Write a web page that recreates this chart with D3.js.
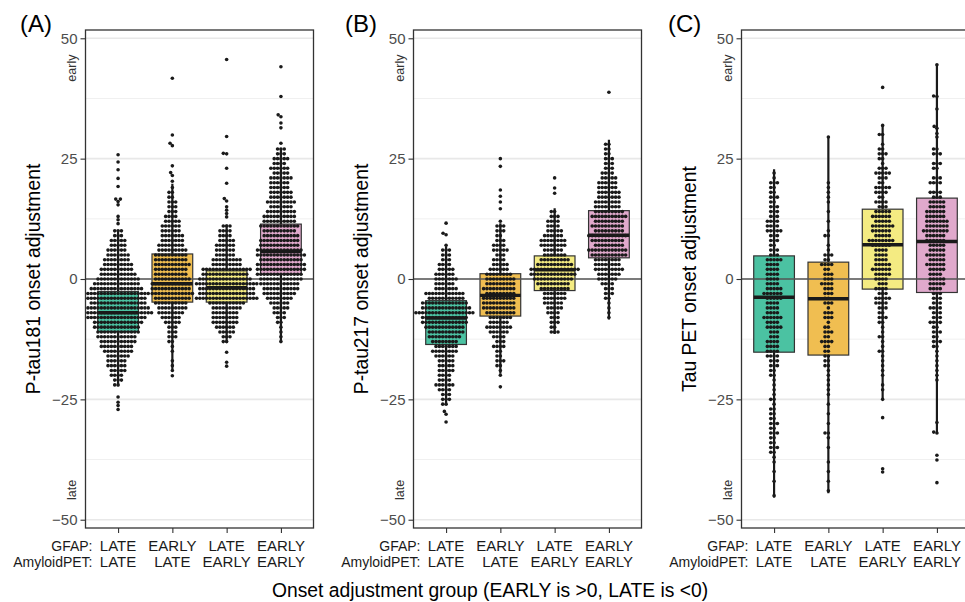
<!DOCTYPE html>
<html>
<head>
<meta charset="utf-8">
<script src="https://cdn.jsdelivr.net/npm/d3@7"></script>
<style>
  body { margin: 0; background: #fff; }
  text { font-family: "Liberation Sans", Arial, Helvetica, sans-serif; }
</style>
</head>
<body>
<svg id="chart" width="965" height="602"></svg>
<script>
// ---- categories and labels ----
const groups = ["LL", "EL", "LE", "EE"];
const gfapLabels = ["LATE", "EARLY", "LATE", "EARLY"];
const amyloidLabels = ["LATE", "LATE", "EARLY", "EARLY"];
const groupColors = ["#3dbd9b", "#efb944", "#f3ea78", "#dea3c8"];
const yMajor = [-50, -25, 0, 25, 50];
const yMinor = [-37.5, -12.5, 12.5, 37.5];
const panelLetters = ["(A)", "(B)", "(C)"];
const panelTitles = ["P-tau181 onset adjustment", "P-tau217 onset adjustment", "Tau PET onset adjustment"];
const xTitle = "Onset adjustment group (EARLY is >0, LATE is <0)";

// ---- P-tau181: counts per 1-year bin (starting at *_from) plus individual values ----
const ptau181_LL_from = -22;
const ptau181_LL_counts = [2,3,4,5,6, 6,7,9,10,11, 12,13,14,15,18, 22,19,17,18,20, 16,14,13,11,10, 9,8,7,6,5, 5,3,3];
const ptau181_LL_extra = [11.5, 12.3, 13.0, 15.4, 16.1, 16.6, 16.6, 19.2, 20.9, 22.7, 24.3, 25.8, -24.5, -25.6, -26.3, -27.1];
const ptau181_EL_from = -19;
const ptau181_EL_counts = [1,1,1,0,1, 1,2,3,3,3, 5,6,8,9,10, 11,13,12,12,11, 10,10,11,10,10, 9,8,7,7,6, 6,5,4,3,3, 3,2,2,1];
const ptau181_EL_extra = [20.3, 21.5, 22.1, 23.5, 27.7, 28.2, 29.9, 41.7, -20.1];
const ptau181_LE_from = -13;
const ptau181_LE_counts = [2,3,5,6,8, 8,8,9,11,19, 17,17,19,16,14, 15,9,9,6,6, 6,5,4,4,3];
const ptau181_LE_extra = [12.9, 13.6, 14.3, 15.0, 16.2, 16.7, 19.9, 23.0, 26.0, 26.1, 29.6, 45.6, -15.2, -17.3, -18.1];
const ptau181_EE_from = -13;
const ptau181_EE_counts = [1,1,1,1,2, 3,4,5,6,8, 10,11,12,13,14, 15,15,13,15,14, 12,12,11,10,12, 10,10,9,7,9, 7,7,6,6,7, 5,6,4,5,3, 3];
const ptau181_EE_extra = [28.2, 31.4, 32.4, 33.7, 34.1, 37.9, 44.1];
// box summaries per group: [lower whisker, Q1, median, Q3, upper whisker]
const ptau181_box = [
  [-22.3, -10.9, -7.0, -2.6, 10.2],
  [-18.8, -4.8, -1.0, 5.2, 19.8],
  [-13.3, -4.8, -1.8, 1.7, 11.3],
  [-13.3, 1.0, 5.7, 11.4, 27.0]
];

// ---- P-tau217 ----
const ptau217_LL_from = -26;
const ptau217_LL_counts = [2,3,3,4,6, 4,4,5,5,5, 6,8,7,8,10, 11,12,14,14,18, 15,14,11,12,7, 6,7,6,5,4, 3,3,3,1];
const ptau217_LL_extra = [9.2, 9.5, 11.6, -27.5, -28.1, -29.7];
const ptau217_EL_from = -20;
const ptau217_EL_counts = [1,1,2,3,2, 2,4,3,4,6, 8,6,7,9,10, 10,10,9,10,9, 9,8,6,5,4, 3,5,4,3,2, 3,3,1];
const ptau217_EL_extra = [14.6, 16.0, 17.2, 18.5, 23.4, 25.0, -22.4];
const ptau217_LE_from = -11;
const ptau217_LE_counts = [3,2,3,3,4, 5,6,7,7,9, 10,12,14,15,11, 9,7,6,8,8, 6,5,4,4,3, 2];
const ptau217_LE_extra = [17.8, 18.9, 21.0];
const ptau217_EE_from = -8;
const ptau217_EE_counts = [1,1,1,1,2, 3,3,4,6,7, 9,8,8,11,12, 9,10,12,9,10, 9,11,9,8,8, 7,7,6,6,5, 4,3,3,3,2, 2,2];
const ptau217_EE_extra = [38.8];
const ptau217_box = [
  [-26.1, -13.6, -8.1, -4.5, 6.8],
  [-19.7, -7.7, -3.4, 1.1, 11.6],
  [-11.4, -2.4, 1.9, 4.8, 14.7],
  [-8.4, 4.4, 9.1, 14.2, 28.9]
];

// ---- Tau PET ----
const taupet_LL_from = -45;
const taupet_LL_counts = [1,0,0,1,0, 1,0,1,1,2, 3,2,2,3,2, 3,2,2,2,1, 2,1,1,1,1, 2,2,3,3,4, 4,4,4,3,3, 5,4,6,4,4, 4,5,6,5,4, 4,4,4,4,5, 3,3,2,3,3, 5,4,4,3,3, 3,2,3,2,2, 3,1,1];
const taupet_LL_extra = [];
const taupet_EL_from = -44;
const taupet_EL_counts = [1,0,1,0,1, 0,1,0,0,1, 0,1,2,0,1, 0,1,0,1,0, 1,1,1,1,1, 1,2,2,2,2, 2,4,2,3,2, 1,3,3,1,3, 2,3,3,4,3, 3,2,4,2,3, 1,1,0,2,1, 0,1,0,1,0, 1,1,1,1,1];
const taupet_EL_extra = [29.5];
const taupet_LE_from = -25;
const taupet_LE_counts = [1,0,1,1,0, 1,1,1,1,1, 2,1,1,2,1, 1,2,3,2,3, 4,5,3,4,3, 4,5,6,5,4, 4,4,6,8,5, 6,7,5,6,5, 3,4,2,4,5, 2,3,5,3,1, 2,3,2,1,0, 2];
const taupet_LE_extra = [31.9, 39.8, -28.8, -39.4, -40.1];
const taupet_EE_from = -21;
const taupet_EE_counts = [1,1,1,1,1, 1,1,2,3,2, 3,2,4,3,3, 4,3,3,3,4, 5,5,4,5,6, 5,6,5,5,6, 6,8,7,7,6, 6,5,5,3,4, 0,4,3,0,2, 3,0,3,2];
const taupet_EE_extra = [29.5, 30.2, 31.3, 31.7, 35.3, 37.9, 38.0, 44.5, -29.8, -31.8, -32.0, -36.6, -37.6, -42.3];
const taupet_box = [
  [-45.4, -15.2, -3.8, 4.8, 22.8],
  [-44.5, -15.8, -4.1, 3.5, 29.5],
  [-24.8, -2.1, 7.1, 14.5, 31.9],
  [-32.0, -2.8, 7.8, 16.8, 44.5]
];

// expand binned counts into individual values
function expand(from, counts, extra) {
  const out = [];
  counts.forEach((c, i) => { for (let k = 0; k < c; k++) out.push(from + i); });
  return out.concat(extra);
}

const panels = [
  {
    groupsData: [
      expand(ptau181_LL_from, ptau181_LL_counts, ptau181_LL_extra),
      expand(ptau181_EL_from, ptau181_EL_counts, ptau181_EL_extra),
      expand(ptau181_LE_from, ptau181_LE_counts, ptau181_LE_extra),
      expand(ptau181_EE_from, ptau181_EE_counts, ptau181_EE_extra)
    ],
    box: ptau181_box
  },
  {
    groupsData: [
      expand(ptau217_LL_from, ptau217_LL_counts, ptau217_LL_extra),
      expand(ptau217_EL_from, ptau217_EL_counts, ptau217_EL_extra),
      expand(ptau217_LE_from, ptau217_LE_counts, ptau217_LE_extra),
      expand(ptau217_EE_from, ptau217_EE_counts, ptau217_EE_extra)
    ],
    box: ptau217_box
  },
  {
    groupsData: [
      expand(taupet_LL_from, taupet_LL_counts, taupet_LL_extra),
      expand(taupet_EL_from, taupet_EL_counts, taupet_EL_extra),
      expand(taupet_LE_from, taupet_LE_counts, taupet_LE_extra),
      expand(taupet_EE_from, taupet_EE_counts, taupet_EE_extra)
    ],
    box: taupet_box
  }
];

// ---- layout ----
const panelLeft = [85.5, 413.5, 741.5];
const letterX = [20, 345, 668];
const panelW = 228;
const plotTop = 30, plotBottom = 528;
const dotR = 1.8, dotGap = 3.35;

const svg = d3.select("#chart");

const y = d3.scaleLinear().domain([-51.72, 51.72]).range([plotBottom, plotTop]);

// simple beeswarm: place each point, in value order, at the x offset nearest the centre without overlap
function swarm(values, D) {
  const pts = values.map(v => ({ v, y: y(v), x: 0 })).sort((a, b) => b.y - a.y);
  const placed = [];
  for (const p of pts) {
    const near = placed.filter(q => Math.abs(q.y - p.y) < D);
    const cands = [0];
    for (const q of near) {
      const dx = Math.sqrt(D * D - (q.y - p.y) ** 2);
      cands.push(q.x + dx, q.x - dx);
    }
    cands.sort((a, b) => Math.abs(a) - Math.abs(b) || a - b);
    for (const c of cands) {
      if (near.every(q => (q.x - c) ** 2 + (q.y - p.y) ** 2 >= D * D - 1e-6)) { p.x = c; break; }
    }
    placed.push(p);
  }
  return placed;
}

panels.forEach((panel, pi) => {
  const left = panelLeft[pi];
  const x = d3.scalePoint().domain(groups).range([left, left + panelW]).padding(0.6);
  const step = x.step();
  const boxW = step * 0.75;
  const g = svg.append("g");

  const clipId = "clip" + pi;
  svg.append("clipPath").attr("id", clipId)
    .append("rect").attr("x", left).attr("y", plotTop).attr("width", panelW).attr("height", plotBottom - plotTop);

  const plot = g.append("g").attr("clip-path", `url(#${clipId})`);

  // grid
  plot.selectAll(".minor").data(yMinor).join("line")
    .attr("x1", left).attr("x2", left + panelW)
    .attr("y1", d => y(d)).attr("y2", d => y(d))
    .attr("stroke", "#f0f0f0").attr("stroke-width", 1);
  plot.selectAll(".major").data(yMajor).join("line")
    .attr("x1", left).attr("x2", left + panelW)
    .attr("y1", d => y(d)).attr("y2", d => y(d))
    .attr("stroke", "#e8e8e8").attr("stroke-width", 1.6);

  // boxes
  panel.box.forEach((b, gi) => {
    const cx = x(groups[gi]);
    const [lo, q1, med, q3, hi] = b;
    plot.append("line").attr("x1", cx).attr("x2", cx).attr("y1", y(q3)).attr("y2", y(hi))
      .attr("stroke", "#1a1a1a").attr("stroke-width", 2.2);
    plot.append("line").attr("x1", cx).attr("x2", cx).attr("y1", y(q1)).attr("y2", y(lo))
      .attr("stroke", "#1a1a1a").attr("stroke-width", 2.2);
    plot.append("rect")
      .attr("x", cx - boxW / 2).attr("width", boxW)
      .attr("y", y(q3)).attr("height", y(q1) - y(q3))
      .attr("fill", groupColors[gi]).attr("fill-opacity", 0.93)
      .attr("stroke", "#333").attr("stroke-width", 1.2);
    plot.append("line").attr("x1", cx - boxW / 2).attr("x2", cx + boxW / 2)
      .attr("y1", y(med)).attr("y2", y(med))
      .attr("stroke", "#1a1a1a").attr("stroke-width", 3.4);
  });

  // zero reference line
  plot.append("line").attr("x1", left).attr("x2", left + panelW)
    .attr("y1", y(0)).attr("y2", y(0))
    .attr("stroke", "#555").attr("stroke-width", 1.6);

  // points
  panel.groupsData.forEach((vals, gi) => {
    const cx = x(groups[gi]);
    const pts = swarm(vals, dotGap);
    plot.append("g").selectAll("circle").data(pts).join("circle")
      .attr("cx", d => cx + d.x).attr("cy", d => d.y).attr("r", dotR)
      .attr("fill", "#1a1a1a");
  });

  // panel border
  g.append("rect").attr("x", left).attr("y", plotTop).attr("width", panelW).attr("height", plotBottom - plotTop)
    .attr("fill", "none").attr("stroke", "#333").attr("stroke-width", 1.3);

  // y axis
  const yAxis = g.append("g").attr("transform", `translate(${left},0)`)
    .call(d3.axisLeft(y).tickValues(yMajor).tickSize(5).tickPadding(3));
  yAxis.select(".domain").remove();
  yAxis.selectAll(".tick line").attr("stroke", "#333").attr("stroke-width", 1.1);
  yAxis.selectAll(".tick text").attr("fill", "#4d4d4d").style("font-size", "15px")
    .style("font-family", '"Liberation Sans", Arial, sans-serif');

  // early / late hints
  g.append("text").attr("transform", `translate(${left - 13.5},${y(43.8)}) rotate(-90)`)
    .attr("text-anchor", "middle").attr("dominant-baseline", "central")
    .attr("fill", "#333").style("font-size", "12.5px").text("early");
  g.append("text").attr("transform", `translate(${left - 13.5},${y(-43.8)}) rotate(-90)`)
    .attr("text-anchor", "middle").attr("dominant-baseline", "central")
    .attr("fill", "#333").style("font-size", "12.5px").text("late");

  // x axis
  const xAxis = g.append("g").attr("transform", `translate(0,${plotBottom})`)
    .call(d3.axisBottom(x).tickSize(5).tickFormat(() => ""));
  xAxis.select(".domain").remove();
  xAxis.selectAll(".tick line").attr("stroke", "#333").attr("stroke-width", 1.1);

  groups.forEach((grp, gi) => {
    const cx = x(grp);
    g.append("text").attr("x", cx).attr("y", 551).attr("text-anchor", "middle")
      .attr("fill", "#1a1a1a").style("font-size", "15px").text(gfapLabels[gi]);
    g.append("text").attr("x", cx).attr("y", 567).attr("text-anchor", "middle")
      .attr("fill", "#1a1a1a").style("font-size", "15px").text(amyloidLabels[gi]);
  });
  g.append("text").attr("x", left + 7).attr("y", 551).attr("text-anchor", "end")
    .attr("fill", "#1a1a1a").style("font-size", "14px").text("GFAP:");
  g.append("text").attr("x", left + 7).attr("y", 567).attr("text-anchor", "end")
    .attr("fill", "#1a1a1a").style("font-size", "14px").text("AmyloidPET:");

  // y title
  g.append("text").attr("transform", `translate(${left - 52},${(plotTop + plotBottom) / 2}) rotate(-90)`)
    .attr("text-anchor", "middle").attr("dominant-baseline", "central")
    .attr("fill", "#000").style("font-size", "19.3px").text(panelTitles[pi]);

  // panel letter
  g.append("text").attr("x", letterX[pi]).attr("y", 32)
    .attr("fill", "#000").style("font-size", "24px").text(panelLetters[pi]);
});

// shared x title
svg.append("text").attr("x", 490).attr("y", 597).attr("text-anchor", "middle")
  .attr("fill", "#000").style("font-size", "19.3px").text(xTitle);
</script>
</body>
</html>
